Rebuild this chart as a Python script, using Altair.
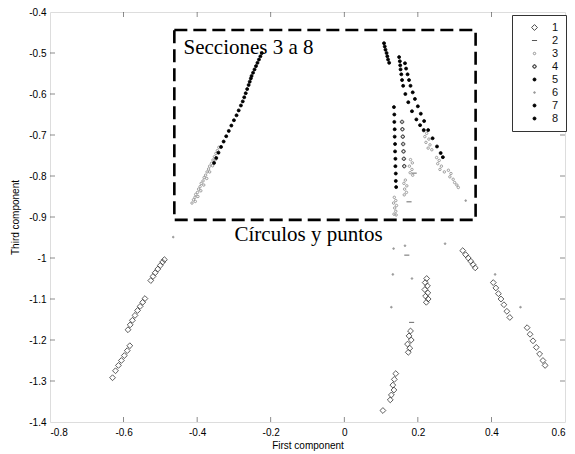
import altair as alt
import pandas as pd

# ---- series values (first component, third component) ----
s1_x = [-0.630, -0.622, -0.614, -0.606, -0.598, -0.590, -0.583,
        -0.588, -0.582, -0.576, -0.569, -0.562, -0.555, -0.548, -0.542,
        -0.526, -0.520, -0.514, -0.507, -0.500, -0.494, -0.489,
        0.322, 0.330, 0.337, 0.344, 0.350, 0.356,
        0.405, 0.412, 0.419, 0.426, 0.434, 0.442, 0.450,
        0.497, 0.505, 0.513, 0.522, 0.531, 0.540, 0.546,
        0.224, 0.220, 0.226, 0.219, 0.227, 0.221, 0.228, 0.223,
        0.180, 0.176, 0.182, 0.172, 0.178, 0.174,
        0.140, 0.136, 0.132, 0.135, 0.128, 0.125, 0.105]
s1_y = [-1.292, -1.275, -1.262, -1.250, -1.238, -1.226, -1.214,
        -1.175, -1.163, -1.152, -1.140, -1.128, -1.118, -1.108, -1.099,
        -1.055, -1.045, -1.036, -1.027, -1.018, -1.010, -1.004,
        -0.982, -0.992, -1.000, -1.008, -1.016, -1.024,
        -1.060, -1.073, -1.087, -1.100, -1.114, -1.130, -1.145,
        -1.170, -1.186, -1.202, -1.218, -1.234, -1.250, -1.262,
        -1.050, -1.060, -1.068, -1.077, -1.085, -1.093, -1.100, -1.108,
        -1.178, -1.190, -1.200, -1.210, -1.220, -1.230,
        -1.282, -1.296, -1.310, -1.322, -1.334, -1.346, -1.372]

s2_x = [0.170, 0.183, 0.176, 0.190]
s2_y = [-0.993, -1.157, -0.863, -0.793]

s3_x = [-0.414, -0.410, -0.406, -0.404, -0.399, -0.396, -0.392, -0.389, -0.384, -0.381,
        -0.377, -0.373, -0.369, -0.366, -0.361, -0.357, -0.353, -0.349, -0.345, -0.341,
        -0.405, -0.398, -0.390, -0.382, -0.374, -0.366, -0.358, -0.350,
        0.136, 0.140, 0.134, 0.142, 0.137, 0.140, 0.135, 0.141,
        0.166, 0.162, 0.170, 0.164, 0.169, 0.163,
        0.180, 0.185, 0.177, 0.184, 0.179, 0.186,
        0.216, 0.224, 0.219, 0.230, 0.222, 0.233, 0.228, 0.238,
        0.251, 0.258, 0.254, 0.264, 0.260, 0.272,
        0.283, 0.290, 0.287, 0.296, 0.300, 0.306, 0.310]
s3_y = [-0.866, -0.858, -0.852, -0.845, -0.840, -0.832, -0.826, -0.818, -0.812, -0.804,
        -0.798, -0.790, -0.783, -0.776, -0.769, -0.761, -0.753, -0.745, -0.738, -0.730,
        -0.862, -0.850, -0.836, -0.822, -0.806, -0.790, -0.775, -0.760,
        -0.852, -0.860, -0.866, -0.872, -0.878, -0.886, -0.893, -0.895,
        -0.810, -0.818, -0.824, -0.832, -0.840, -0.846,
        -0.760, -0.768, -0.776, -0.784, -0.792, -0.798,
        -0.690, -0.696, -0.704, -0.710, -0.718, -0.724, -0.732, -0.736,
        -0.755, -0.762, -0.770, -0.776, -0.784, -0.790,
        -0.786, -0.794, -0.802, -0.808, -0.816, -0.822, -0.828]

s4_x = [0.157, 0.158, 0.159, 0.160, 0.161, 0.162, 0.163]
s4_y = [-0.668, -0.686, -0.704, -0.722, -0.740, -0.758, -0.776]

s5_x = [-0.224, -0.228, -0.232, -0.236, -0.240, -0.244, -0.248, -0.252, -0.254, -0.257,
        -0.260, -0.264, -0.268, -0.272, -0.276, -0.281, -0.287, -0.293, -0.300, -0.307,
        -0.314, -0.321, -0.328, -0.335, -0.342, -0.348, -0.354]
s5_y = [-0.500, -0.508, -0.516, -0.524, -0.532, -0.540, -0.548, -0.556, -0.562, -0.570,
        -0.578, -0.588, -0.598, -0.608, -0.618, -0.628, -0.640, -0.652, -0.664, -0.677,
        -0.690, -0.703, -0.716, -0.729, -0.743, -0.756, -0.768]

s6_x = [-0.465, 0.134, 0.165, 0.132, 0.184, 0.128, 0.274, 0.410, 0.479, 0.330]
s6_y = [-0.949, -0.977, -0.970, -1.040, -1.050, -1.120, -0.965, -1.040, -1.120, -0.860]

s7_x = [0.108, 0.110, 0.112, 0.115, 0.117, 0.119, 0.122,
        0.149, 0.151, 0.152, 0.153, 0.155, 0.157, 0.160, 0.166, 0.174, 0.184, 0.196, 0.206, 0.216,
        0.165, 0.168, 0.172, 0.176, 0.180, 0.186, 0.192, 0.200, 0.208, 0.217, 0.228, 0.240,
        0.252, 0.262, 0.268]
s7_y = [-0.476, -0.484, -0.492, -0.500, -0.508, -0.516, -0.524,
        -0.510, -0.520, -0.530, -0.540, -0.552, -0.566, -0.580, -0.600, -0.620, -0.642, -0.662,
        -0.676, -0.688,
        -0.525, -0.538, -0.552, -0.566, -0.580, -0.596, -0.612, -0.630, -0.648, -0.666, -0.688,
        -0.708, -0.728, -0.744, -0.754]

s8_x = [0.135, 0.136, 0.136, 0.137, 0.137, 0.138, 0.138, 0.139, 0.139, 0.140, 0.140, 0.141]
s8_y = [-0.632, -0.650, -0.668, -0.686, -0.704, -0.722, -0.740, -0.758, -0.776, -0.794,
        -0.812, -0.827]

series_names = ["1", "2", "3", "4", "5", "6", "7", "8"]
x_ticks = [-0.8, -0.6, -0.4, -0.2, 0.0, 0.2, 0.4, 0.6]
y_ticks = [-0.4, -0.5, -0.6, -0.7, -0.8, -0.9, -1.0, -1.1, -1.2, -1.3, -1.4]

# annotation box and its captions
box_x = [-0.462, 0.357]
box_y = [-0.444, -0.907]
captions = ["Secciones 3 a 8", "Círculos y puntos"]
caption_x = [-0.437, -0.097]
caption_y = [-0.487, -0.944]

rows = []
for name, xs, ys in zip(series_names,
                        [s1_x, s2_x, s3_x, s4_x, s5_x, s6_x, s7_x, s8_x],
                        [s1_y, s2_y, s3_y, s4_y, s5_y, s6_y, s7_y, s8_y]):
    for a, b in zip(xs, ys):
        rows.append({"series": name, "x": a, "y": b})
df = pd.DataFrame(rows)

xscale = alt.Scale(domain=[-0.8, 0.6], nice=False, zero=False)
yscale = alt.Scale(domain=[-1.4, -0.4], nice=False, zero=False)

font = "Liberation Sans"
label_expr = "datum.value == 0 ? '0' : toString(round(datum.value * 10) / 10)"

shape_range = ["diamond", "stroke", "circle", "cross", "circle", "circle", "circle", "circle"]
size_range = [34, 26, 6, 12, 9, 3, 9, 9]
stroke_range = ["#333333", "#444444", "#8a8a8a", "#222222", "#000000", "#999999", "#000000", "#000000"]
fill_range = ["transparent", "transparent", "transparent", "transparent",
              "#000000", "#999999", "#000000", "#000000"]

legend = alt.Legend(title=None, orient="none", legendX=462, legendY=3,
                    strokeColor="#333333", padding=7, fillColor="white",
                    labelFont=font, labelFontSize=11, labelColor="#111111",
                    rowPadding=1, symbolOffset=10, labelOffset=12,
                    symbolStrokeWidth=0.9)

axis_common = dict(grid=False, domain=False, ticks=False, labelExpr=label_expr,
                   titleFontWeight="normal", titleFont=font, titleFontSize=10)

points = alt.Chart(df).mark_point(strokeWidth=0.8, opacity=1).encode(
    x=alt.X("x:Q", scale=xscale,
            axis=alt.Axis(title="First component", values=x_ticks, labelPadding=5,
                          titlePadding=3, **axis_common)),
    y=alt.Y("y:Q", scale=yscale,
            axis=alt.Axis(title="Third component", values=y_ticks, labelPadding=4,
                          titlePadding=8, **axis_common)),
    shape=alt.Shape("series:N", scale=alt.Scale(domain=series_names, range=shape_range),
                    legend=legend),
    size=alt.Size("series:N",
                  scale=alt.Scale(type="ordinal", domain=series_names, range=size_range),
                  legend=legend),
    stroke=alt.Stroke("series:N", scale=alt.Scale(domain=series_names, range=stroke_range),
                      legend=legend),
    fill=alt.Fill("series:N", scale=alt.Scale(domain=series_names, range=fill_range),
                  legend=legend),
)

box_df = pd.DataFrame({"x": [box_x[0]], "x2": [box_x[1]], "y": [box_y[0]], "y2": [box_y[1]]})
box = alt.Chart(box_df).mark_rect(fill=None, stroke="black", strokeWidth=2.6,
                                  strokeDash=[13, 6]).encode(
    x=alt.X("x:Q", scale=xscale), x2="x2:Q",
    y=alt.Y("y:Q", scale=yscale), y2="y2:Q")

cap_df = pd.DataFrame({"text": captions, "x": caption_x, "y": caption_y})
cap_left = alt.Chart(cap_df.iloc[[0]]).mark_text(
    font="Liberation Serif", fontSize=21, align="left", baseline="middle", color="black"
).encode(x=alt.X("x:Q", scale=xscale), y=alt.Y("y:Q", scale=yscale), text="text:N")
cap_center = alt.Chart(cap_df.iloc[[1]]).mark_text(
    font="Liberation Serif", fontSize=21, align="center", baseline="middle", color="black"
).encode(x=alt.X("x:Q", scale=xscale), y=alt.Y("y:Q", scale=yscale), text="text:N")

# inward tick marks on all four sides
xt = pd.DataFrame({"v": x_ticks[1:-1]})
yt = pd.DataFrame({"v": y_ticks[1:-1]})
tick_style = dict(color="#333333", thickness=0.8, size=5)
xt_bottom = alt.Chart(xt).mark_tick(orient="vertical", yOffset=-2.5, **tick_style).encode(
    x=alt.X("v:Q", scale=xscale), y=alt.value(410))
xt_top = alt.Chart(xt).mark_tick(orient="vertical", yOffset=2.5, **tick_style).encode(
    x=alt.X("v:Q", scale=xscale), y=alt.value(0))
yt_left = alt.Chart(yt).mark_tick(orient="horizontal", xOffset=2.5, **tick_style).encode(
    y=alt.Y("v:Q", scale=yscale), x=alt.value(0))
yt_right = alt.Chart(yt).mark_tick(orient="horizontal", xOffset=-2.5, **tick_style).encode(
    y=alt.Y("v:Q", scale=yscale), x=alt.value(515))

chart = alt.layer(
    points, box, cap_left, cap_center, xt_bottom, xt_top, yt_left, yt_right
).properties(
    width=515, height=410,
    autosize=alt.AutoSizeParams(type="none"),
    padding={"left": 50, "top": 12, "right": 10, "bottom": 32},
).configure_view(
    stroke="#333333", strokeWidth=1
).configure_axis(
    labelFont=font, labelFontSize=10, labelColor="#111111",
    titleFont=font, titleFontSize=10, titleColor="#111111", titleFontWeight="normal"
).configure(background="white")

chart.save("out.html", embed_options={"renderer": "svg", "actions": False})
